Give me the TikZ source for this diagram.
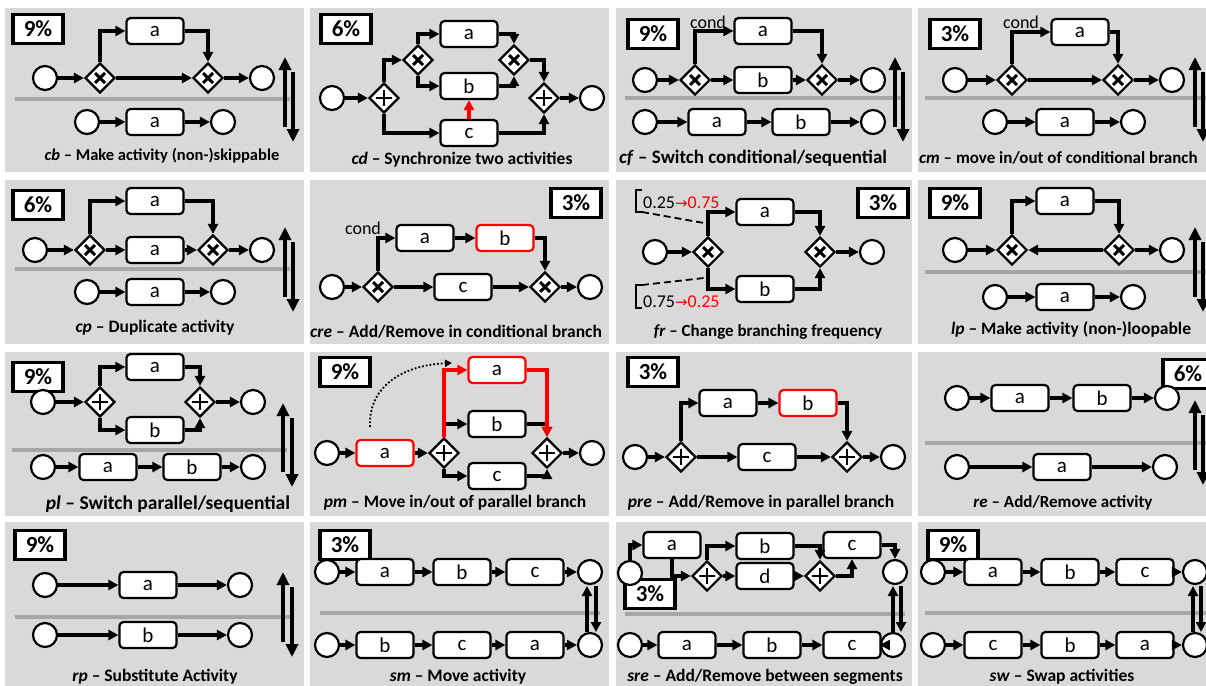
\documentclass[tikz,border=0pt]{standalone}
\usepackage{fontspec}
\setmainfont{Carlito}
\newfontfamily\arrowfont{DejaVu Sans}
\usetikzlibrary{arrows.meta,shapes.geometric}

\definecolor{panelgray}{HTML}{D9D9D9}
\definecolor{sepgray}{HTML}{A6A6A6}

\begin{document}
\begin{tikzpicture}[x=1pt,y=-1pt,
    act/.style={draw, rounded corners=4pt, line width=2.2pt, fill=white,
      minimum width=57pt, minimum height=26pt, inner sep=0pt,
      font=\fontsize{21}{21}\selectfont},
    redact/.style={act, draw=red},
    ev/.style={circle, draw, line width=2.2pt, fill=white, minimum size=24pt, inner sep=0pt},
    xorg/.style={diamond, draw, line width=2.2pt, fill=white, minimum size=30pt, inner sep=0pt,
      path picture={\draw[line width=3pt]
        ([shift={(-5pt,-5pt)}]path picture bounding box.center) -- ([shift={(5pt,5pt)}]path picture bounding box.center)
        ([shift={(-5pt,5pt)}]path picture bounding box.center) -- ([shift={(5pt,-5pt)}]path picture bounding box.center);}},
    andg/.style={diamond, draw, line width=2.2pt, fill=white, minimum size=30pt, inner sep=0pt,
      path picture={\draw[line width=2.2pt]
        ([xshift=-8pt]path picture bounding box.center) -- ([xshift=8pt]path picture bounding box.center)
        ([yshift=-8pt]path picture bounding box.center) -- ([yshift=8pt]path picture bounding box.center);}},
    pct/.style={draw, line width=3.5pt, fill=white, minimum width=50pt, minimum height=29pt,
      inner sep=0pt, font=\fontsize{23}{23}\selectfont\bfseries},
    flow/.style={line width=3.2pt, -{Triangle[length=10pt,width=10pt]}},
    redflow/.style={flow, red},
    swap/.style={line width=3.6pt, -{Triangle[length=13pt,width=12pt]}},
    sep/.style={sepgray, line width=3.5pt},
    capt/.style={font=\fontsize{17.5}{17.5}\selectfont\bfseries},
    note/.style={font=\fontsize{18}{18}\selectfont}
  ]
  \useasboundingbox (0,0) rectangle (1206,685);

  % Panels
  \foreach \x/\w in {5/299,310/299,616/296,918/300}
    \foreach \y/\h in {8/164,180/164,352/164,522/170}
      \fill[panelgray] (\x,\y) rectangle ++(\w,\h);

  % Separator lines
  \foreach \xa/\xb/\y in {15/290/99,625/905/98,925/1206/98,15/290/269,925/1206/272,
                          12/287/450,925/1206/443,15/290/617,320/600/613,625/905/614,925/1206/613}
    \draw[sep] (\xa,\y) -- (\xb,\y);

  %%% cb
  \node[pct] (pcb) at (38,29) {9\%};
  \node[ev] (cbs) at (45,78) {};
  \node[xorg] (cbx1) at (100,78) {};
  \node[act] (cba) at (155,31) {a};
  \node[xorg] (cbx2) at (208,78) {};
  \node[ev] (cbe) at (262,78) {};
  \draw[flow] (cbs) -- (cbx1);
  \draw[flow] (cbx1) -- (cbx2);
  \draw[flow] (cbx1) |- (cba);
  \draw[flow] (cba) -| (cbx2);
  \draw[flow] (cbx2) -- (cbe);
  \node[ev] (cbs2) at (87,122) {};
  \node[act] (cba2) at (155,122) {a};
  \node[ev] (cbe2) at (223,122) {};
  \draw[flow] (cbs2) -- (cba2);
  \draw[flow] (cba2) -- (cbe2);
  \node[capt, font=\fontsize{16.5}{16.5}\selectfont\bfseries] (ccb) at (162,156) {\textit{cb} -- Make activity (non-)skippable};

  %%% cd
  \node[pct] (pcd) at (346,29) {6\%};
  \node[ev] (cds) at (332,98) {};
  \node[andg] (cdp1) at (384,98) {};
  \node[xorg] (cdx1) at (418,60) {};
  \node[act] (cda) at (469,34) {a};
  \node[act] (cdb) at (469,86) {b};
  \node[act] (cdc) at (469,133) {c};
  \node[xorg] (cdx2) at (514,60) {};
  \node[andg] (cdp2) at (544,98) {};
  \node[ev] (cde) at (592,98) {};
  \draw[flow] (cds) -- (cdp1);
  \draw[flow] (cdp1) |- (cdx1);
  \draw[flow] (cdp1) |- (cdc);
  \draw[flow] (cdx1) |- (cda);
  \draw[flow] (cdx1) |- (cdb);
  \draw[flow] (cda) -| (cdx2);
  \draw[flow] (cdb) -| (cdx2);
  \draw[flow] (cdx2) -| (cdp2);
  \draw[flow] (cdc) -| (cdp2);
  \draw[flow] (cdp2) -- (cde);
  \draw[redflow] (cdc) -- (cdb);
  \node[capt] (ccd) at (462,160) {\textit{cd} -- Synchronize two activities};

  %%% cf
  \node[pct] (pcf) at (653,34) {9\%};
  \node[note] (cfcond) at (708,22) {cond};
  \node[ev] (cfs) at (645,80) {};
  \node[xorg] (cfx1) at (695,80) {};
  \node[act] (cfa) at (763,31) {a};
  \node[act] (cfb) at (763,80) {b};
  \node[xorg] (cfx2) at (822,80) {};
  \node[ev] (cfe) at (873,80) {};
  \draw[flow] (cfs) -- (cfx1);
  \draw[flow] (cfx1) -- (cfb);
  \draw[flow] (cfb) -- (cfx2);
  \draw[flow] (cfx1) |- (cfa);
  \draw[flow] (cfa) -| (cfx2);
  \draw[flow] (cfx2) -- (cfe);
  \node[ev] (cfs2) at (645,122) {};
  \node[act] (cfa2) at (717,122) {a};
  \node[act] (cfb2) at (801,122) {b};
  \node[ev] (cfe2) at (873,122) {};
  \draw[flow] (cfs2) -- (cfa2);
  \draw[flow] (cfa2) -- (cfb2);
  \draw[flow] (cfb2) -- (cfe2);
  \node[capt, font=\fontsize{19}{19}\selectfont\bfseries] (ccf) at (753,158) {\textit{cf} -- Switch conditional/sequential};

  %%% cm
  \node[pct] (pcm) at (955,34) {3\%};
  \node[note] (cmcond) at (1021,22) {cond};
  \node[ev] (cms) at (955,80) {};
  \node[xorg] (cmx1) at (1012,80) {};
  \node[act] (cma) at (1080,32) {a};
  \node[xorg] (cmx2) at (1118,80) {};
  \node[ev] (cme) at (1172,80) {};
  \draw[flow] (cms) -- (cmx1);
  \draw[flow] (cmx1) -- (cmx2);
  \draw[flow] (cmx1) |- (cma);
  \draw[flow] (cma) -| (cmx2);
  \draw[flow] (cmx2) -- (cme);
  \node[ev] (cms2) at (995,122) {};
  \node[act] (cma2) at (1065,122) {a};
  \node[ev] (cme2) at (1133,122) {};
  \draw[flow] (cms2) -- (cma2);
  \draw[flow] (cma2) -- (cme2);
  \node[capt, font=\fontsize{17}{17}\selectfont\bfseries, anchor=west, inner sep=0pt] (ccm) at (919,158) {\textit{cm} -- move in/out of conditional branch};

  %%% cp
  \node[pct] (pcp) at (38,205) {6\%};
  \node[ev] (cps) at (35,250) {};
  \node[xorg] (cpx1) at (90,250) {};
  \node[act] (cpa) at (155,201) {a};
  \node[act] (cpa1) at (155,250) {a};
  \node[xorg] (cpx2) at (213,250) {};
  \node[ev] (cpe) at (262,250) {};
  \draw[flow] (cps) -- (cpx1);
  \draw[flow] (cpx1) -- (cpa1);
  \draw[flow] (cpa1) -- (cpx2);
  \draw[flow] (cpx1) |- (cpa);
  \draw[flow] (cpa) -| (cpx2);
  \draw[flow] (cpx2) -- (cpe);
  \node[ev] (cps2) at (87,292) {};
  \node[act] (cpa2) at (155,292) {a};
  \node[ev] (cpe2) at (223,292) {};
  \draw[flow] (cps2) -- (cpa2);
  \draw[flow] (cpa2) -- (cpe2);
  \node[capt] (ccp) at (155,328) {\textit{cp} -- Duplicate activity};

  %%% cre
  \node[pct] (pcre) at (576,203) {3\%};
  \node[note] (crecond) at (363,228) {cond};
  \node[ev] (cres) at (332,287) {};
  \node[xorg] (crex1) at (378,287) {};
  \node[act] (crea) at (425,238) {a};
  \node[redact] (creb) at (505,238) {b};
  \node[act] (crec) at (463,287) {c};
  \node[xorg] (crex2) at (545,287) {};
  \node[ev] (cree) at (590,287) {};
  \draw[flow] (cres) -- (crex1);
  \draw[flow] (crex1) |- (crea);
  \draw[flow] (crea) -- (creb);
  \draw[flow] (creb) -| (crex2);
  \draw[flow] (crex1) -- (crec);
  \draw[flow] (crec) -- (crex2);
  \draw[flow] (crex2) -- (cree);
  \node[capt] (ccre) at (456,332) {\textit{cre} -- Add/Remove in conditional branch};

  %%% fr
  \node[pct] (pfr) at (883,203) {3\%};
  \node[ev] (frs) at (655,252) {};
  \node[xorg] (frx1) at (708,252) {};
  \node[act] (fra) at (765,212) {a};
  \node[act] (frb) at (765,289) {b};
  \node[xorg] (frx2) at (820,252) {};
  \node[ev] (fre) at (872,252) {};
  \draw[flow] (frs) -- (frx1);
  \draw[flow] (frx1) |- (fra);
  \draw[flow] (frx1) |- (frb);
  \draw[flow] (fra) -| (frx2);
  \draw[flow] (frb) -| (frx2);
  \draw[flow] (frx2) -- (fre);
  \draw[line width=2pt] (642,190) -- (636,190) -- (636,212) -- (642,212);
  \draw[line width=2pt] (642,285) -- (636,285) -- (636,308) -- (642,308);
  \node[note, anchor=west, inner sep=0pt] (frt1) at (643,203) {0.25\textcolor{red}{{\arrowfont\fontsize{15}{15}\selectfont →}0.75}};
  \node[note, anchor=west, inner sep=0pt] (frt2) at (643,302) {0.75\textcolor{red}{{\arrowfont\fontsize{15}{15}\selectfont →}0.25}};
  \coordinate (frd1) at (642,212);
  \coordinate (frd2) at (704,223);
  \coordinate (frd3) at (642,285);
  \coordinate (frd4) at (704,278);
  \draw[dashed, dash pattern=on 7pt off 4pt, line width=1.8pt] (frd1) -- (frd2);
  \draw[dashed, dash pattern=on 7pt off 4pt, line width=1.8pt] (frd3) -- (frd4);
  \node[capt, font=\fontsize{17}{17}\selectfont\bfseries] (cfr) at (768,332) {\textit{fr} -- Change branching frequency};

  %%% lp
  \node[pct] (plp) at (955,203) {9\%};
  \node[ev] (lps) at (955,250) {};
  \node[xorg] (lpx1) at (1012,250) {};
  \node[act] (lpa) at (1065,201) {a};
  \node[xorg] (lpx2) at (1119,250) {};
  \node[ev] (lpe) at (1172,250) {};
  \draw[flow] (lps) -- (lpx1);
  \draw[flow] (lpx2) -- (lpx1);
  \draw[flow] (lpx1) |- (lpa);
  \draw[flow] (lpa) -| (lpx2);
  \draw[flow] (lpx2) -- (lpe);
  \node[ev] (lps2) at (995,297) {};
  \node[act] (lpa2) at (1065,297) {a};
  \node[ev] (lpe2) at (1133,297) {};
  \draw[flow] (lps2) -- (lpa2);
  \draw[flow] (lpa2) -- (lpe2);
  \node[capt] (clp) at (1071,329) {\textit{lp} -- Make activity (non-)loopable};

  %%% pl
  \node[pct] (ppl) at (38,377) {9\%};
  \node[ev] (pls) at (43,402) {};
  \node[andg] (plp1) at (100,402) {};
  \node[act] (pla) at (155,367) {a};
  \node[act] (plb) at (155,430) {b};
  \node[andg] (plp2) at (200,402) {};
  \node[ev] (ple) at (253,402) {};
  \draw[flow] (pls) -- (plp1);
  \draw[flow] (plp1) |- (pla);
  \draw[flow] (plp1) |- (plb);
  \draw[flow] (pla) -| (plp2);
  \draw[flow] (plb) -| (plp2);
  \draw[flow] (plp2) -- (ple);
  \node[ev] (pls2) at (43,467) {};
  \node[act] (pla2) at (108,467) {a};
  \node[act] (plb2) at (192,467) {b};
  \node[ev] (ple2) at (253,467) {};
  \draw[flow] (pls2) -- (pla2);
  \draw[flow] (pla2) -- (plb2);
  \draw[flow] (plb2) -- (ple2);
  \node[capt, font=\fontsize{19.5}{19.5}\selectfont\bfseries] (cpl) at (168,504) {\textit{pl} -- Switch parallel/sequential};

  %%% pm
  \node[pct] (ppm) at (345,372) {9\%};
  \node[ev] (pms) at (327,453) {};
  \node[redact] (pma) at (385,453) {a};
  \node[andg] (pmp1) at (444,453) {};
  \node[redact] (pma1) at (497,370) {a};
  \node[act] (pmb) at (497,424) {b};
  \node[act] (pmc) at (497,476) {c};
  \node[andg] (pmp2) at (547,453) {};
  \node[ev] (pme) at (592,453) {};
  \draw[flow] (pms) -- (pma);
  \draw[flow] (pma) -- (pmp1);
  \draw[flow] (pmp1) |- (pmb);
  \draw[flow] (pmp1) |- (pmc);
  \draw[flow] (pmb) -| (pmp2);
  \draw[flow] (pmc) -| (pmp2);
  \draw[redflow] (pmp1) |- (pma1);
  \draw[redflow] (pma1) -| (pmp2);
  \draw[flow] (pmp2) -- (pme);
  \coordinate (pmfrom) at (370,427);
  \coordinate (pmto) at (452,363);
  \draw[dotted, line width=1.8pt, -{Triangle[length=7pt,width=7pt]}] (pmfrom) .. controls (368,385) and (405,365) .. (pmto);
  \node[capt] (cpm) at (455,503) {\textit{pm} -- Move in/out of parallel branch};

  %%% pre
  \node[pct] (ppre) at (653,372) {3\%};
  \node[ev] (pres) at (635,457) {};
  \node[andg] (prep1) at (681,457) {};
  \node[act] (prea) at (728,403) {a};
  \node[redact] (preb) at (808,403) {b};
  \node[act] (prec) at (767,457) {c};
  \node[andg] (prep2) at (847,457) {};
  \node[ev] (pree) at (893,457) {};
  \draw[flow] (pres) -- (prep1);
  \draw[flow] (prep1) |- (prea);
  \draw[flow] (prea) -- (preb);
  \draw[flow] (preb) -| (prep2);
  \draw[flow] (prep1) -- (prec);
  \draw[flow] (prec) -- (prep2);
  \draw[flow] (prep2) -- (pree);
  \node[capt] (cpre) at (761,503) {\textit{pre} -- Add/Remove in parallel branch};

  %%% re
  \node[pct] (pre) at (1188,374) {6\%};
  \node[ev] (res) at (957,398) {};
  \node[act] (rea) at (1020,398) {a};
  \node[act] (reb) at (1102,398) {b};
  \node[ev] (ree) at (1167,398) {};
  \draw[flow] (res) -- (rea);
  \draw[flow] (rea) -- (reb);
  \draw[flow] (reb) -- (ree);
  \node[ev] (res2) at (957,467) {};
  \node[act] (rea2) at (1062,467) {a};
  \node[ev] (ree2) at (1165,467) {};
  \draw[flow] (res2) -- (rea2);
  \draw[flow] (rea2) -- (ree2);
  \node[capt, font=\fontsize{17}{17}\selectfont\bfseries] (cre) at (1063,503) {\textit{re} -- Add/Remove activity};

  %%% rp
  \node[pct] (prp) at (40,545) {9\%};
  \node[ev] (rps) at (45,585) {};
  \node[act] (rpa) at (148,585) {a};
  \node[ev] (rpe) at (240,585) {};
  \draw[flow] (rps) -- (rpa);
  \draw[flow] (rpa) -- (rpe);
  \node[ev] (rps2) at (45,635) {};
  \node[act] (rpb) at (148,635) {b};
  \node[ev] (rpe2) at (240,635) {};
  \draw[flow] (rps2) -- (rpb);
  \draw[flow] (rpb) -- (rpe2);
  \node[capt] (crp) at (155,677) {\textit{rp} -- Substitute Activity};

  %%% sm
  \node[pct] (psm) at (345,545) {3\%};
  \node[ev] (sms) at (327,572) {};
  \node[act] (sma) at (385,572) {a};
  \node[act] (smb) at (462,572) {b};
  \node[act] (smc) at (535,572) {c};
  \node[ev] (sme) at (590,572) {};
  \draw[flow] (sms) -- (sma);
  \draw[flow] (sma) -- (smb);
  \draw[flow] (smb) -- (smc);
  \draw[flow] (smc) -- (sme);
  \node[ev] (sms2) at (327,645) {};
  \node[act] (smb2) at (385,645) {b};
  \node[act] (smc2) at (462,645) {c};
  \node[act] (sma2) at (535,645) {a};
  \node[ev] (sme2) at (590,645) {};
  \draw[flow] (sms2) -- (smb2);
  \draw[flow] (smb2) -- (smc2);
  \draw[flow] (smc2) -- (sma2);
  \draw[flow] (sma2) -- (sme2);
  \node[capt] (csm) at (458,677) {\textit{sm} -- Move activity};

  %%% sre
  \node[pct] (psre) at (650,594) {3\%};
  \node[ev] (sres) at (630,573) {};
  \node[act] (srea) at (672,545) {a};
  \node[andg] (srep1) at (707,576) {};
  \node[act] (sreb) at (765,546) {b};
  \node[act] (sred) at (765,576) {d};
  \node[andg] (srep2) at (820,576) {};
  \node[act] (srec) at (852,545) {c};
  \node[ev] (sree) at (895,572) {};
  \draw[flow] (sres) |- (srea);
  \draw[flow] (srea) |- (srep1);
  \draw[flow] (srep1) |- (sreb);
  \draw[flow] (srep1) -- (sred);
  \draw[flow] (sreb) -| (srep2);
  \draw[flow] (sred) -- (srep2);
  \draw[flow] (srep2) -| (srec);
  \draw[flow] (srec) -| (sree);
  \node[ev] (sres2) at (630,645) {};
  \node[act] (srea2) at (687,645) {a};
  \node[act] (sreb2) at (772,645) {b};
  \node[act] (srec2) at (852,645) {c};
  \node[ev] (sree2) at (893,645) {};
  \draw[flow] (sres2) -- (srea2);
  \draw[flow] (srea2) -- (sreb2);
  \draw[flow] (sreb2) -- (srec2);
  \draw[flow] (srec2) -- (sree2);
  \node[capt] (csre) at (765,677) {\textit{sre} -- Add/Remove between segments};

  %%% sw
  \node[pct] (psw) at (953,545) {9\%};
  \node[ev] (sws) at (933,572) {};
  \node[act] (swa) at (993,572) {a};
  \node[act] (swb) at (1070,572) {b};
  \node[act] (swc) at (1145,572) {c};
  \node[ev] (swe) at (1195,572) {};
  \draw[flow] (sws) -- (swa);
  \draw[flow] (swa) -- (swb);
  \draw[flow] (swb) -- (swc);
  \draw[flow] (swc) -- (swe);
  \node[ev] (sws2) at (933,645) {};
  \node[act] (swc2) at (993,645) {c};
  \node[act] (swb2) at (1070,645) {b};
  \node[act] (swa2) at (1145,645) {a};
  \node[ev] (swe2) at (1195,645) {};
  \draw[flow] (sws2) -- (swc2);
  \draw[flow] (swc2) -- (swb2);
  \draw[flow] (swb2) -- (swa2);
  \draw[flow] (swa2) -- (swe2);
  \node[capt] (csw) at (1062,677) {\textit{sw} -- Swap activities};

  % Switch arrows (up / down)
  \foreach \xu/\xd/\ya/\yb in {285/293/57/142,895/903/57/142,1195/1203/57/142,
                               285/293/227/312,1195/1203/227/312,
                               283/292/403/487,1195/1203/400/485,283/292/572/657}{
    \coordinate (up1) at (\xu,\yb-15);
    \coordinate (up2) at (\xu,\ya);
    \coordinate (dn1) at (\xd,\ya+15);
    \coordinate (dn2) at (\xd,\yb);
    \draw[swap] (up1) -- (up2);
    \draw[swap] (dn1) -- (dn2);
  }
  \foreach \xu/\xd/\ya/\yb in {587/596/586/632,893/901/586/632,1193/1201/586/632}{
    \coordinate (up1) at (\xu,\yb);
    \coordinate (up2) at (\xu,\ya);
    \coordinate (dn1) at (\xd,\ya);
    \coordinate (dn2) at (\xd,\yb);
    \draw[flow] (up1) -- (up2);
    \draw[flow] (dn1) -- (dn2);
  }
\end{tikzpicture}
\end{document}
